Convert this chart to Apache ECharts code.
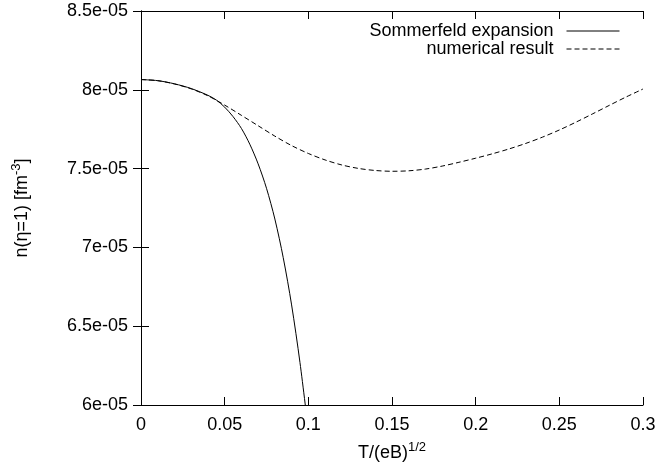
<!DOCTYPE html>
<html>
<head>
<meta charset="utf-8">
<script src="https://cdn.jsdelivr.net/npm/echarts@6/dist/echarts.min.js"></script>
<style>
  html, body { margin: 0; padding: 0; background: #fff; }
  #chart { width: 658px; height: 468px; }
</style>
</head>
<body>
<div id="chart"></div>
<script>
// values
var sommerfeldX = [0, 0.01, 0.02, 0.03, 0.04, 0.045, 0.05, 0.055, 0.06, 0.065, 0.07, 0.075, 0.08, 0.085, 0.09, 0.095, 0.1]
var sommerfeldY = [8.065e-5, 8.058e-5, 8.038e-5, 8.008e-5, 7.965e-5, 7.935e-5, 7.89e-5, 7.83e-5, 7.755e-5, 7.655e-5,
  7.53e-5, 7.375e-5, 7.18e-5, 6.935e-5, 6.635e-5, 6.27e-5, 5.84e-5]

var numericalX = [0, 0.01, 0.02, 0.03, 0.04, 0.05, 0.06, 0.07, 0.08, 0.09, 0.1, 0.11, 0.12, 0.13, 0.14, 0.15,
  0.16, 0.17, 0.18, 0.19, 0.2, 0.21, 0.22, 0.23, 0.24, 0.25, 0.26, 0.27, 0.28, 0.29, 0.3]
var numericalY = [8.065e-5, 8.058e-5, 8.037e-5, 8.006e-5, 7.962e-5, 7.903e-5, 7.838e-5, 7.772e-5, 7.706e-5, 7.646e-5,
  7.596e-5, 7.555e-5, 7.523e-5, 7.501e-5, 7.488e-5, 7.483e-5, 7.486e-5, 7.497e-5, 7.516e-5, 7.540e-5,
  7.566e-5, 7.594e-5, 7.625e-5, 7.66e-5, 7.70e-5, 7.745e-5, 7.795e-5, 7.848e-5, 7.902e-5, 7.955e-5, 8.005e-5]

var seriesNames = ['Sommerfeld expansion', 'numerical result']
var xTickLabels = ['0', '0.05', '0.1', '0.15', '0.2', '0.25', '0.3']
var yTickLabels = ['6e-05', '6.5e-05', '7e-05', '7.5e-05', '8e-05', '8.5e-05']

var FONT = 'Liberation Sans, Arial, Helvetica, sans-serif'
var FS = 18

function pairs(xs, ys) {
  return xs.map(function (x, i) { return [x, ys[i]] })
}

function legendFor(name, top) {
  return {
    data: [name],
    right: 38,
    top: top,
    padding: 0,
    align: 'right',
    itemWidth: 53,
    itemHeight: 14,
    itemStyle: { opacity: 0 }, // only the line sample, no marker
    lineStyle: { width: 1 },
    textStyle: { fontSize: FS, color: '#000', fontFamily: FONT, padding: [0, 8, 0, 0] }
  }
}

var tickStyle = { show: true, inside: true, length: 8, lineStyle: { color: '#000', width: 1 } }
var lineStyleAxis = { show: true, lineStyle: { color: '#000', width: 1 } }

var chart = echarts.init(document.getElementById('chart'))
chart.setOption({
  backgroundColor: '#fff',
  animation: false,
  textStyle: { fontFamily: FONT, color: '#000' },
  grid: { left: 141, right: 15, top: 11, bottom: 63, outerBoundsMode: 'none', containLabel: false },
  legend: [legendFor(seriesNames[0], 22), legendFor(seriesNames[1], 40)],
  xAxis: [{
    type: 'value',
    min: 0,
    max: 0.3,
    interval: 0.05,
    position: 'bottom',
    axisLine: lineStyleAxis,
    axisTick: tickStyle,
    splitLine: { show: false },
    axisLabel: {
      fontSize: FS,
      color: '#000',
      margin: 11,
      formatter: function (v) { return xTickLabels[Math.round(v / 0.05)] }
    },
    name: '{a|T/(eB)}{s|1/2}',
    nameLocation: 'middle',
    nameGap: 36,
    nameTextStyle: {
      rich: {
        a: { fontSize: FS, color: '#000', fontFamily: FONT },
        s: { fontSize: 13, color: '#000', fontFamily: FONT, padding: [0, 0, 12, 0] }
      }
    }
  }, {
    type: 'value',
    min: 0,
    max: 0.3,
    interval: 0.05,
    position: 'top',
    axisLine: lineStyleAxis,
    axisTick: tickStyle,
    axisLabel: { show: false },
    splitLine: { show: false }
  }],
  yAxis: [{
    type: 'value',
    min: 6e-5,
    max: 8.5e-5,
    interval: 0.5e-5,
    position: 'left',
    axisLine: lineStyleAxis,
    axisTick: tickStyle,
    splitLine: { show: false },
    axisLabel: {
      fontSize: FS,
      color: '#000',
      margin: 13,
      formatter: function (v) { return yTickLabels[Math.round((v - 6e-5) / 0.5e-5)] }
    },
    name: '{a|n(η=1) [fm}{s|-3}{a|]}',
    nameLocation: 'middle',
    nameGap: 106,
    nameTextStyle: {
      rich: {
        a: { fontSize: FS, color: '#000', fontFamily: FONT },
        s: { fontSize: 13, color: '#000', fontFamily: FONT, padding: [0, 0, 12, 0] }
      }
    }
  }, {
    type: 'value',
    min: 6e-5,
    max: 8.5e-5,
    interval: 0.5e-5,
    position: 'right',
    axisLine: lineStyleAxis,
    axisTick: tickStyle,
    axisLabel: { show: false },
    splitLine: { show: false }
  }],
  series: [{
    name: seriesNames[0],
    type: 'line',
    symbol: 'none',
    smooth: 0.3,
    clip: true,
    lineStyle: { color: '#000', width: 1, type: 'solid' },
    itemStyle: { color: '#000' },
    data: pairs(sommerfeldX, sommerfeldY)
  }, {
    name: seriesNames[1],
    type: 'line',
    symbol: 'none',
    smooth: 0.3,
    clip: true,
    lineStyle: { color: '#000', width: 1, type: [5, 3] },
    itemStyle: { color: '#000' },
    data: pairs(numericalX, numericalY)
  }]
})
</script>
</body>
</html>
